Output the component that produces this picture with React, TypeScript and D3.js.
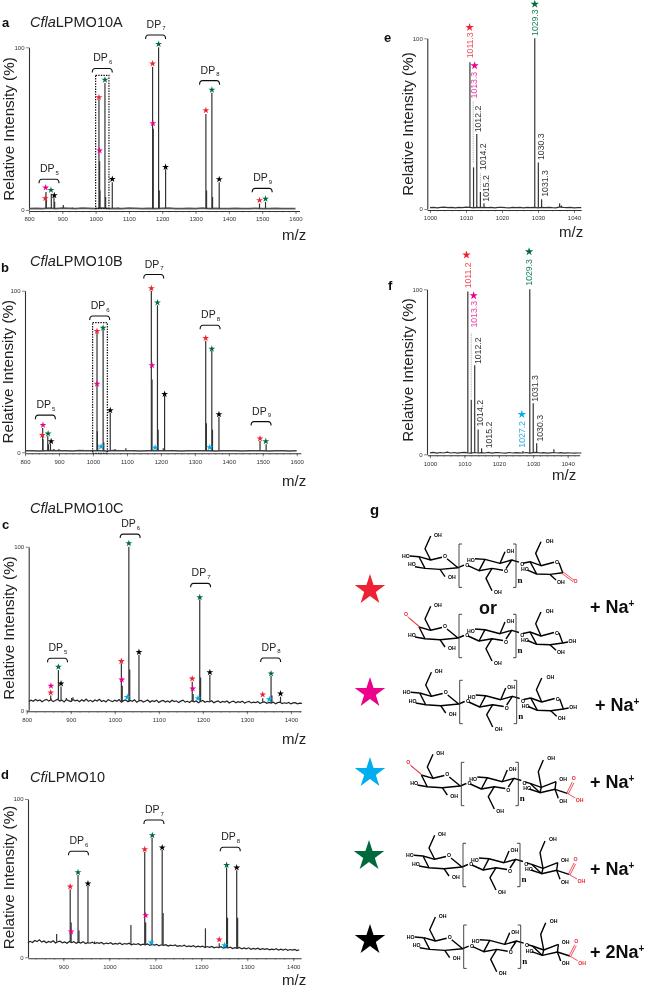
import React, { useEffect, useRef } from 'react';
import * as d3 from 'd3';

type Kind = 'lactone' | 'native' | 'doubleOx' | 'acid' | 'acid2Na';
type Peak = [number, number];
type Star = [number, number, Kind];
type Bracket = [string, number, number]; // subscript, m/z, intensity
type IonLabel = [string, number, number, Kind | 'other'];

const starColors: Record<Kind, string> = {
  lactone: '#ee2430',
  native: '#ec008c',
  doubleOx: '#00aeef',
  acid: '#006b3c',
  acid2Na: '#000000',
};
const textColors: Record<string, string> = {
  lactone: '#f04a55',
  native: '#ec3aa8',
  doubleOx: '#29abe2',
  acid: '#1a8058',
  other: '#333333',
};

// panel a
const peaksA: Peak[] = [[851, 11], [852, 6], [867, 10], [875, 8], [877, 5], [903, 3], [930, 1.6], [958, 1.2], [1010, 68], [1012, 30], [1013, 12], [1028, 78], [1030, 8], [1050, 17], [1068, 1.6], [1171, 88], [1173, 50], [1189, 100], [1191, 12], [1210, 25], [1331, 59], [1333, 12], [1349, 72], [1351, 8], [1371, 17], [1492, 4], [1510, 5]];
const starsA: Star[] = [[849, 7.2, 'lactone'], [850, 13.7, 'native'], [866, 12.3, 'acid'], [876, 9, 'acid2Na'], [1010, 69.3, 'lactone'], [1012, 36.5, 'native'], [1028, 80, 'acid'], [1050, 19, 'acid2Na'], [1171, 90, 'lactone'], [1172, 53.3, 'native'], [1189, 102, 'acid'], [1210, 26.4, 'acid2Na'], [1331, 61.3, 'lactone'], [1349, 73.8, 'acid'], [1371, 18.9, 'acid2Na'], [1492, 6, 'lactone'], [1510, 6.8, 'acid']];
const bracketsA: Bracket[] = [['5', 860, 18.9], ['6', 1020, 87], ['7', 1180, 107.6], ['8', 1342, 79.5], ['9', 1500, 13.3]];
const baseA = [0.9, 1, 0.8, 1.1, 0.9, 1.2, 1, 0.8, 1.1, 1, 0.9, 1.1, 0.8, 1, 0.9, 1.1, 1, 0.8, 1, 0.9, 1, 1.1, 0.9, 0.8, 1, 0.9, 1.1, 0.8, 1, 0.9, 0.8, 1, 0.9, 0.8, 1, 0.9, 0.8, 1, 0.9, 0.8, 0.9];

// panel b
const peaksB: Peak[] = [[852, 15], [853, 8], [867, 10], [869, 5], [875, 5.5], [885, 2], [900, 2], [935, 1], [1012, 74], [1013, 13], [1014, 5], [1030, 76], [1032, 6], [1051, 24.5], [1065, 2], [1097, 2.5], [1172, 100], [1174, 45], [1190, 91], [1192, 14], [1207, 2.5], [1211, 35], [1232, 1.5], [1332, 69], [1334, 18], [1350, 63], [1352, 14], [1371, 22], [1492, 7], [1510, 5]];
const starsB: Star[] = [[851, 10.7, 'lactone'], [853, 16.9, 'native'], [868, 11.5, 'acid'], [877, 6.8, 'acid2Na'], [1012, 75, 'lactone'], [1012, 42.3, 'native'], [1030, 77, 'acid'], [1024, 3.5, 'doubleOx'], [1051, 26, 'acid2Na'], [1172, 101.4, 'lactone'], [1174, 53.8, 'native'], [1190, 92.6, 'acid'], [1183, 2.9, 'doubleOx'], [1211, 36, 'acid2Na'], [1332, 70.7, 'lactone'], [1350, 64, 'acid'], [1344, 3, 'doubleOx'], [1371, 23.5, 'acid2Na'], [1492, 8.5, 'lactone'], [1509, 6.8, 'acid']];
const bracketsB: Bracket[] = [['5', 860, 23], ['6', 1020, 84.3], ['7', 1179, 110], ['8', 1345, 78.6], ['9', 1495, 19]];
const baseB = [0.9, 1, 0.8, 1, 1.1, 0.9, 1, 0.8, 1.1, 0.9, 1, 0.9, 0.8, 1.1, 1, 0.9, 1, 0.8, 1, 0.9, 1, 1, 0.9, 0.8, 1, 0.9, 1, 0.9, 0.8, 1, 0.9, 1, 0.8, 0.9, 1, 0.9, 0.8, 1, 0.9, 0.8, 0.9];

// panel c
const peaksC: Peak[] = [[854.5, 9], [856, 7], [872, 24.6], [878, 14.5], [890, 7.5], [902, 7.5], [905, 8], [1015, 28.7], [1017, 15], [1032, 100], [1034, 25], [1055, 34], [1176, 17.5], [1178, 10], [1193, 67.8], [1195, 20], [1216, 21.6], [1336, 7.3], [1355, 21], [1357, 9], [1376.5, 8.3]];
const starsC: Star[] = [[854.5, 10.8, 'lactone'], [855, 15, 'native'], [872, 26.5, 'acid'], [878, 16.3, 'acid2Na'], [1015, 30, 'lactone'], [1016, 18.7, 'native'], [1032, 102, 'acid'], [1028.5, 8, 'doubleOx'], [1055, 35.6, 'acid2Na'], [1176, 19.3, 'lactone'], [1177, 13.2, 'native'], [1189, 7.3, 'doubleOx'], [1193, 69, 'acid'], [1216, 23.2, 'acid2Na'], [1336, 9.6, 'lactone'], [1351, 6.7, 'doubleOx'], [1355, 22.4, 'acid'], [1376.5, 10.2, 'acid2Na']];
const bracketsC: Bracket[] = [['5', 870, 31.8], ['6', 1035, 107.7], ['7', 1195, 77.6], ['8', 1354, 32]];
const baseC = [5.4, 6.2, 5.5, 6.6, 5.8, 6.3, 5.2, 6.1, 6.7, 5.6, 6.4, 5.3, 6, 6.8, 5.7, 6.2, 5.1, 6.5, 5.9, 5.3, 6.6, 5.8, 6.2, 5.2, 6.4, 5.6, 6.9, 5.5, 6.1, 5.2, 6.3, 5.7, 6.7, 5.4, 6, 5.1, 6.5, 5.8, 5.3, 6.2, 5.5, 6.6, 5, 5.9, 6.3, 5.2, 6, 5.5, 6.4, 4.9, 5.8, 6.1, 5.1, 5.7, 6.3, 5, 5.9, 5.4, 6.2, 4.8, 5.6, 6, 5.1, 5.7, 4.9, 6.1, 5.3, 5.8, 4.7, 5.6, 6.2, 5, 5.5, 4.8, 5.9, 5.2, 5.7, 4.6, 5.4, 6, 4.9, 5.5, 5.1, 5.8, 4.6, 5.3, 5.7, 4.7, 5.4, 5, 5.7, 4.5, 5.2, 5.6, 4.6, 5.3, 4.9, 5.5, 4.4, 5.1, 5.5, 4.5, 5, 4.7, 5.3, 4.2, 4.9, 5.2, 4.3, 4.8, 4.4, 5, 4, 4.7, 5, 4.1, 4.6, 4.2, 4.8, 3.9, 4.5, 4.7, 4, 4.4, 4.2];

// panel d
const peaksD: Peak[] = [[885.5, 14.7], [858, 10.5], [915, 43], [917, 22], [932, 52], [934, 17], [953.6, 45], [968, 10], [1047, 20.4], [1077, 66.7], [1079, 22], [1093, 75.6], [1115, 67.8], [1117, 28], [1209, 18.3], [1239, 8.8], [1255, 56.8], [1257, 25], [1277, 55], [1279, 25]];
const starsD: Star[] = [[915, 44.6, 'lactone'], [917, 16.2, 'native'], [932, 53.7, 'acid'], [953.6, 46.5, 'acid2Na'], [1077, 68.2, 'lactone'], [1079, 26.5, 'native'], [1093.5, 77, 'acid'], [1091, 9.3, 'doubleOx'], [1115, 69.3, 'acid2Na'], [1239, 11.2, 'lactone'], [1250.7, 7.6, 'doubleOx'], [1255, 58.3, 'acid'], [1277, 56.6, 'acid2Na']];
const bracketsD: Bracket[] = [['6', 933, 67], ['7', 1097, 86.7], ['8', 1263, 69.5]];
const baseD = [9.2, 10.1, 9.4, 10.6, 9.9, 11, 9.6, 10.3, 9.2, 10, 9.5, 10.4, 9, 9.8, 10.2, 9.1, 9.7, 8.9, 10, 9.3, 9.8, 8.8, 9.5, 9, 9.9, 8.7, 9.3, 8.9, 9.6, 8.6, 9.2, 8.8, 9.4, 8.4, 9, 8.6, 9.2, 8.2, 8.8, 8.4, 9, 8, 8.7, 8.3, 8.9, 7.9, 8.5, 8.1, 8.6, 7.7, 8.3, 7.9, 8.5, 7.5, 8.1, 7.7, 8.2, 7.3, 7.9, 7.5, 8, 7.1, 7.7, 7.3, 7.8, 6.9, 7.4, 7, 7.6, 6.7, 7.2, 6.8, 7.3, 6.4, 7, 6.6, 7.1, 6.2, 6.8, 6.3, 6.9, 6, 6.5, 6.1, 6.7, 5.8, 6.3, 5.9, 6.4, 5.5, 6.1, 5.7, 6.2, 5.3, 5.9, 5.4, 6, 5.1, 5.6, 5.2, 5.8, 4.9, 5.4, 5, 5.5, 4.7, 5.2, 4.8, 5.4, 4.5, 5.1, 4.6, 5.2, 4.4, 4.9, 4.5, 5, 4.3, 4.8];

// panel e
const peaksE: Peak[] = [[1011.1, 86], [1012.1, 24.4], [1013, 44], [1014, 10], [1015, 3.3], [1029.1, 100], [1030.1, 27.3], [1031, 5.7], [1036, 3.3], [1036.5, 2]];
const starsE: Star[] = [[1011, 106.4, 'lactone'], [1012.4, 84, 'native'], [1029.1, 120, 'acid']];
const labelsE: IonLabel[] = [['1011.3', 1011.1, 88.3, 'lactone'], ['1013.3', 1012.3, 64.8, 'native'], ['1012.2', 1013.4, 44.9, 'other'], ['1014.2', 1014.6, 22.9, 'other'], ['1015.2', 1015.6, 4.3, 'other'], ['1029.3', 1029.2, 101.4, 'acid'], ['1030.3', 1030.8, 28.7, 'other'], ['1031.3', 1031.9, 7.2, 'other']];
const leadersE: [number, number, number][] = [[1012, 62.9, 26.8], [1014, 20.9, 11]];
const baseE = [0.8, 1, 0.7, 0.9, 1.1, 0.8, 1, 0.7, 1, 0.8, 1.1, 0.9, 0.7, 1, 0.8, 1, 0.8, 1, 0.7, 0.9, 1, 0.8, 0.7, 1, 0.8, 1, 0.7, 0.9, 0.8, 1, 0.7, 0.9, 0.8, 1, 0.8, 0.7, 1.2, 0.9, 0.8, 1, 0.7, 0.8, 0.8];

// panel f
const peaksF: Peak[] = [[1011, 98.6], [1012, 33], [1013, 54], [1014, 15], [1015, 3.6], [1027, 2], [1029, 100], [1030, 31], [1031, 6.7], [1036, 3], [1005, 1.6]];
const starsF: Star[] = [[1010.6, 120.8, 'lactone'], [1012.7, 96.2, 'native'], [1026.7, 24.2, 'doubleOx'], [1028.8, 122.8, 'acid']];
const labelsF: IonLabel[] = [['1011.2', 1011, 100.6, 'lactone'], ['1013.3', 1012.8, 76.8, 'native'], ['1012.2', 1013.8, 54.7, 'other'], ['1014.2', 1014.5, 16.8, 'other'], ['1015.2', 1017, 3.6, 'other'], ['1027.2', 1026.8, 4, 'doubleOx'], ['1029.3', 1028.9, 102.2, 'acid'], ['1031.3', 1030.6, 31.9, 'other'], ['1030.3', 1032, 7.7, 'other']];
const leadersF: [number, number, number][] = [[1012, 73.3, 33.9]];
const baseF = [0.9, 1.2, 0.7, 1.1, 0.8, 1.3, 0.8, 1.1, 0.7, 1, 1.2, 0.9, 0.7, 1.1, 0.8, 1, 0.8, 1.2, 0.7, 1, 1.1, 0.8, 0.7, 1.1, 0.8, 1, 0.9, 0.8, 1.1, 0.7, 1, 1.2, 0.8, 1, 0.7, 0.9, 1.1, 0.8, 1, 0.7, 0.9, 0.8, 0.7, 0.8, 0.8];

const ticksWide = [800, 900, 1000, 1100, 1200, 1300, 1400, 1500, 1600];
const ticksC = [800, 900, 1000, 1100, 1200, 1300, 1400];
const ticksD = [900, 1000, 1100, 1200, 1300, 1400];
const ticksZoom = [1000, 1010, 1020, 1030, 1040];

const yLabel = 'Relative Intensity (%)';

interface PanelCfg {
  letter: string; letterAt: [number, number];
  title?: [string, string]; titleAt?: [number, number];
  domain: [number, number]; range: [number, number];
  y0: number; y100: number; axisX: number;
  ticks: number[]; minorStep: number;
  peaks: Peak[]; stars: Star[]; brackets?: Bracket[];
  base: number[]; baseStart: number; baseStep: number; baseColor: string; baseWidth: number;
  labels?: IonLabel[]; leaders?: [number, number, number][];
  box?: [number, number, number, number];
  yLabelAt: [number, number]; mzAt: [number, number]; starR: number;
}

const panels: PanelCfg[] = [
  { letter: 'a', letterAt: [2, 27], title: ['Cfla', 'LPMO10A'], titleAt: [30, 27], domain: [800, 1612], range: [29, 299.5], y0: 210, y100: 47.3, axisX: 29, ticks: ticksWide, minorStep: 20, peaks: peaksA, stars: starsA, brackets: bracketsA, base: baseA, baseStart: 800, baseStep: 20, baseColor: '#555', baseWidth: 1.8, box: [1000, 1040, 82.8, 1], yLabelAt: [13.5, 129], mzAt: [282, 240], starR: 3.6 },
  { letter: 'b', letterAt: [1, 272], title: ['Cfla', 'LPMO10B'], titleAt: [30, 266], domain: [800, 1612], range: [25, 300.8], y0: 452.3, y100: 290.7, axisX: 25, ticks: ticksWide, minorStep: 20, peaks: peaksB, stars: starsB, brackets: bracketsB, base: baseB, baseStart: 800, baseStep: 20, baseColor: '#444', baseWidth: 1.5, box: [999, 1042.5, 80.2, -0.6], yLabelAt: [12.5, 371.7], mzAt: [282, 486], starR: 3.6 },
  { letter: 'c', letterAt: [2, 529], title: ['Cfla', 'LPMO10C'], titleAt: [30, 513], domain: [800, 1423], range: [26.7, 301], y0: 710.3, y100: 546.7, axisX: 28.7, ticks: ticksC, minorStep: 20, peaks: peaksC, stars: starsC, brackets: bracketsC, base: baseC, baseStart: 805, baseStep: 5, baseColor: '#222', baseWidth: 1.2, yLabelAt: [13.5, 628], mzAt: [282, 744], starR: 3.6 },
  { letter: 'd', letterAt: [1, 779], title: ['Cfi', 'LPMO10'], titleAt: [30, 782], domain: [823, 1417], range: [27.9, 301.1], y0: 957.3, y100: 799, axisX: 28, ticks: ticksD, minorStep: 20, peaks: peaksD, stars: starsD, brackets: bracketsD, base: baseD, baseStart: 823, baseStep: 5, baseColor: '#222', baseWidth: 1.2, yLabelAt: [13.5, 877.5], mzAt: [282, 985], starR: 3.6 },
  { letter: 'e', letterAt: [384, 42], domain: [999.2, 1042], range: [427.1, 581.2], y0: 209, y100: 38.3, axisX: 427.3, ticks: ticksZoom, minorStep: 2, peaks: peaksE, stars: starsE, labels: labelsE, leaders: leadersE, base: baseE, baseStart: 1000, baseStep: 1, baseColor: '#333', baseWidth: 1.2, yLabelAt: [413, 124], mzAt: [559, 237], starR: 4.4 },
  { letter: 'f', letterAt: [388, 290], domain: [999.2, 1043.5], range: [427.2, 579.7], y0: 454.3, y100: 289.3, axisX: 427, ticks: ticksZoom, minorStep: 2, peaks: peaksF, stars: starsF, labels: labelsF, leaders: leadersF, base: baseF, baseStart: 1000, baseStep: 1, baseColor: '#333', baseWidth: 1.2, yLabelAt: [413, 370], mzAt: [552, 480], starR: 4.4 },
];

const sans = '"Liberation Sans", Arial, sans-serif';

const starPath = (r: number) => d3.symbol().type(d3.symbolStar).size((r * r) / 0.8908)() as string;

const Panel: React.FC<{ cfg: PanelCfg }> = ({ cfg }) => {
  const axisRef = useRef<SVGGElement>(null);
  const x = d3.scaleLinear().domain(cfg.domain).range(cfg.range);
  const y = d3.scaleLinear().domain([0, 100]).range([cfg.y0, cfg.y100]);

  useEffect(() => {
    const g = d3.select(axisRef.current);
    g.selectAll('*').remove();

    const minor = d3.range(Math.ceil(cfg.domain[0] / cfg.minorStep) * cfg.minorStep, cfg.domain[1], cfg.minorStep);
    const axisY = cfg.y0 + 1;
    g.append('g')
      .attr('transform', `translate(0, ${axisY})`)
      .call(d3.axisBottom(x).tickValues(minor).tickSize(1.5).tickFormat(() => '').tickSizeOuter(0))
      .call(s => s.select('.domain').remove())
      .selectAll('line').attr('stroke', '#555').attr('stroke-width', 0.5);

    const bottom = g.append('g')
      .attr('transform', `translate(0, ${axisY})`)
      .call(d3.axisBottom(x).tickValues(cfg.ticks).tickSize(3).tickPadding(3).tickSizeOuter(0).tickFormat(d3.format('d') as any));
    bottom.select('.domain').attr('stroke', '#333').attr('stroke-width', 1.1);
    bottom.selectAll('line').attr('stroke', '#333').attr('stroke-width', 0.6);
    bottom.selectAll('text').attr('font-size', 6).attr('font-family', sans).attr('fill', '#333');

    const left = g.append('g')
      .attr('transform', `translate(${cfg.axisX}, 0)`)
      .call(d3.axisLeft(y).tickValues([0, 100]).tickSize(3).tickPadding(1.5).tickSizeOuter(0));
    left.select('.domain').attr('stroke', '#333').attr('stroke-width', 1.1);
    left.selectAll('line').attr('stroke', '#333').attr('stroke-width', 0.6);
    left.selectAll('text').attr('font-size', 6).attr('font-family', sans).attr('fill', '#333');
  }, []);

  const baseLine = d3.line<number>()
    .x((_, i) => x(cfg.baseStart + i * cfg.baseStep))
    .y(d => y(d));

  // sticks stand on the noise band, not on the axis
  const baseAt = (mz: number) => {
    const i = Math.round((mz - cfg.baseStart) / cfg.baseStep);
    return cfg.base[Math.max(0, Math.min(cfg.base.length - 1, i))];
  };

  return (
    <g fontFamily={sans}>
      <g ref={axisRef} />
      <path d={baseLine(cfg.base) as string} fill="none" stroke={cfg.baseColor} strokeWidth={cfg.baseWidth} />
      {cfg.peaks.map(([mz, v], i) => (
        <line key={i} x1={x(mz)} x2={x(mz)} y1={y(baseAt(mz))} y2={y(v)} stroke="#333" strokeWidth={1.2} />
      ))}
      {cfg.leaders?.map(([mz, a, b], i) => (
        <line key={i} x1={x(mz)} x2={x(mz)} y1={y(a)} y2={y(b)} stroke="#777" strokeWidth={0.6} strokeDasharray="1 0.8" />
      ))}
      {cfg.box && (
        <rect
          x={x(cfg.box[0])} width={x(cfg.box[1]) - x(cfg.box[0])}
          y={y(cfg.box[2])} height={y(cfg.box[3]) - y(cfg.box[2])}
          fill="none" stroke="#111" strokeWidth={1.2} strokeDasharray="1.4 1.2"
        />
      )}
      {cfg.brackets?.map(([sub, mz, v], i) => {
        const cx = x(mz), by = y(v);
        return (
          <g key={i}>
            <path d={`M${cx - 10},${by + 4}Q${cx - 10},${by} ${cx - 7},${by}L${cx + 7},${by}Q${cx + 10},${by} ${cx + 10},${by + 4}`} fill="none" stroke="#111" strokeWidth={1.1} />
            <text x={cx - 9} y={by - 7} fontSize={10.5} fill="#222">DP<tspan fontSize={6} dy={2.5} dx={1}>{sub}</tspan></text>
          </g>
        );
      })}
      {cfg.labels?.map(([t, mz, v, k], i) => (
        <text key={i} transform={`translate(${x(mz)}, ${y(v)}) rotate(-90)`} dy="0.35em" fontSize={8.7} fill={textColors[k]}>{t}</text>
      ))}
      {cfg.stars.map(([mz, v, k], i) => (
        <path key={i} d={starPath(cfg.starR)} transform={`translate(${x(mz)}, ${y(v)})`} fill={starColors[k]} />
      ))}
      <text x={cfg.letterAt[0]} y={cfg.letterAt[1]} fontSize={13} fontWeight="bold" fill="#111">{cfg.letter}</text>
      {cfg.title && cfg.titleAt && (
        <text x={cfg.titleAt[0]} y={cfg.titleAt[1]} fontSize={14.5} fill="#222"><tspan fontStyle="italic">{cfg.title[0]}</tspan>{cfg.title[1]}</text>
      )}
      <text transform={`translate(${cfg.yLabelAt[0]}, ${cfg.yLabelAt[1]}) rotate(-90)`} textAnchor="middle" fontSize={15.2} fill="#222">{yLabel}</text>
      <text x={cfg.mzAt[0]} y={cfg.mzAt[1]} fontSize={15} fill="#222">m/z</text>
    </g>
  );
};

// glycan drawing, in px from the first ring's left corner
type Pt = [number, number];
const leftRing: Pt[][] = [
  [[0, 0], [11.7, 3.3], [23, 0.5]], [[28, 2], [39, 11], [21, 12.7], [6, 11.7], [0, 0]],
  [[11.7, 3.3], [6, -8], [11.7, -20.7]], [[21, 12.7], [26, 20]], [[6, 11.7], [-4, 10]],
  [[39, 11], [45, 8.5]],
];
const midRing: Pt[][] = [
  [[49, 9], [60, 14], [66, 2.7], [81, 6.7], [92.7, 3.3], [87, 12]],
  [[84, 13.5], [73, 11.7], [60, 14]], [[66, 2.7], [56, 2]], [[81, 6.7], [86, -5]],
  [[73, 11.7], [67, 21.7], [73, 34]], [[92.7, 3.3], [100, 5.5]],
];
const rightRing: Pt[][] = [
  [[104, 6.5], [111, 5], [122, 9], [135, 5.5]], [[140, 6], [143.7, 16], [131, 17.7], [117.7, 17.3], [111, 5]],
  [[122, 9], [116.7, -3.3], [122, -15]], [[131, 17.7], [137, 23.3]], [[117.7, 17.3], [108.5, 13.5]],
];
const acidRing: Pt[][] = [
  [[104, 7], [108.7, 8.3], [120, 12.3], [134.7, 6.7]], [[108.7, 8.3], [118.7, 17.7], [133.7, 14.3], [146, 18.3]],
  [[120, 12.3], [118.7, 17.7]], [[120, 12.3], [117, -3.3], [122, -15]], [[133.7, 14.3], [137, 23.3]],
  [[118.7, 17.7], [108, 14]], [[134.7, 6.7], [133.7, 14.3]],
];
const leftLabels: [string, Pt][] = [['OH', [15, -22]], ['OH', [29, 21]]];
const midLabels: [string, Pt][] = [['O', [46.2, 8.6]], ['O', [85, 15]], ['HO', [48, 3.7]], ['OH', [87.5, -6]], ['OH', [75, 36]], ['O', [101.2, 8]]];
const bond = d3.line();

const Bonds: React.FC<{ sets: Pt[][]; color?: string }> = ({ sets, color = '#000' }) => (
  <>{sets.map((s, i) => <path key={i} d={bond(s) as string} fill="none" stroke={color} strokeWidth={1.4} strokeLinejoin="round" />)}</>
);

const Labels: React.FC<{ items: [string, Pt][]; color?: string }> = ({ items, color = '#000' }) => (
  <>{items.map(([t, p], i) => <text key={i} x={p[0]} y={p[1] + 1.8} fontSize={5.2} fontWeight="bold" fill={color}>{t}</text>)}</>
);

const Glycan: React.FC<{ at: Pt; start: 'keto' | 'plain'; end: 'lactone' | 'reducing' | 'acid' }> = ({ at, start, end }) => (
  <g transform={`translate(${at[0]}, ${at[1]})`} fontFamily={sans}>
    <Bonds sets={leftRing} />
    <Bonds sets={midRing} />
    <Bonds sets={end === 'acid' ? acidRing : rightRing} />
    <Labels items={leftLabels} />
    <Labels items={midLabels} />
    <text x={24} y={1.4} fontSize={5.2} fontWeight="bold">O</text>
    {start === 'plain' ? (
      <>
        <Bonds sets={[[[0, 0], [-9, -0.7]]]} />
        <Labels items={[['HO', [-17, -1]], ['HO', [-11, 8]]]} />
      </>
    ) : (
      <>
        <path d="M0,-1L-11.5,-10.5M1.2,0.6L-10.3,-9" stroke="#ee2430" strokeWidth={0.8} fill="none" />
        <Labels items={[['O', [-15, -12.5]]]} color="#ee2430" />
        <Labels items={[['HO', [-11, 8]]]} />
      </>
    )}
    {end !== 'acid' && <Labels items={[['OH', [126.7, -16]], ['O', [136, 6]], ['HO', [102, 13]], ['OH', [138, 25.5]]]} />}
    {end === 'lactone' && (
      <>
        <path d="M143.7,15L155,23.5M142.7,16.5L154,25" stroke="#ee2430" strokeWidth={0.8} fill="none" />
        <Labels items={[['O', [154.5, 25]]]} color="#ee2430" />
      </>
    )}
    {end === 'reducing' && (
      <>
        <Bonds sets={[[[143.7, 16], [149, 15]]]} />
        <Labels items={[['OH', [149.5, 14.5]]]} />
      </>
    )}
    {end === 'acid' && (
      <>
        <Labels items={[['OH', [126, -16.7]], ['OH', [138, 4.5]], ['HO', [102, 13.3]], ['OH', [138, 26]]]} />
        <path d="M145.5,18L151,7M147,19L152.5,8M146,18.3L154,23" stroke="#ee2430" strokeWidth={0.8} fill="none" />
        <Labels items={[['O', [150.5, 3.5]]]} color="#ee2430" />
        <Labels items={[['OH', [154.5, 25.5]]]} color="#ee2430" />
      </>
    )}
    <path d="M43,-12.7H40V30.7H43M94,-12.7H97V30.7H94" fill="none" stroke="#333" strokeWidth={0.9} />
    <text x={98.5} y={26} fontSize={9} fontWeight="bold" fontFamily='"Liberation Serif", serif'>n</text>
  </g>
);

const legendKinds: Kind[] = ['lactone', 'native', 'doubleOx', 'acid', 'acid2Na'];
const legendSpots: Pt[] = [[370, 590], [370, 693], [370, 773], [369, 856], [370, 940]];
const adducts: [string, number, number][] = [['+ Na', 590, 613], ['+ Na', 595, 711], ['+ Na', 590, 788], ['+ Na', 590, 875], ['+ 2Na', 590, 958]];

export default function App() {
  return (
    <svg width={647} height={992} style={{ position: 'absolute', left: 0, top: 0, background: '#fff' }}>
      <defs>
        <filter id="soft" x="0" y="0" width="100%" height="100%" filterUnits="userSpaceOnUse" primitiveUnits="userSpaceOnUse">
          <feGaussianBlur stdDeviation="0.35" />
        </filter>
      </defs>
      <g filter="url(#soft)">
        <rect width={647} height={992} fill="#fff" />
        {panels.map(p => <Panel key={p.letter} cfg={p} />)}

        <g fontFamily={sans} fontWeight="bold" fill="#111">
          <text x={370} y={515} fontSize={15}>g</text>
          <text x={479} y={614} fontSize={18}>or</text>
          {adducts.map(([t, ax, ay], i) => (
            <text key={i} x={ax} y={ay} fontSize={18}>{t}<tspan fontSize={10} dy={-6}>+</tspan></text>
          ))}
        </g>
        {legendKinds.map((k, i) => (
          <path key={k} d={starPath(16)} transform={`translate(${legendSpots[i][0]}, ${legendSpots[i][1]})`} fill={starColors[k]} />
        ))}
        <Glycan at={[419, 556.7]} start="plain" end="lactone" />
        <Glycan at={[419, 627]} start="keto" end="reducing" />
        <Glycan at={[419.7, 693]} start="plain" end="reducing" />
        <Glycan at={[421.3, 775]} start="keto" end="acid" />
        <Glycan at={[423, 856]} start="plain" end="acid" />
        <Glycan at={[423.7, 937.7]} start="plain" end="acid" />
      </g>
    </svg>
  );
}
